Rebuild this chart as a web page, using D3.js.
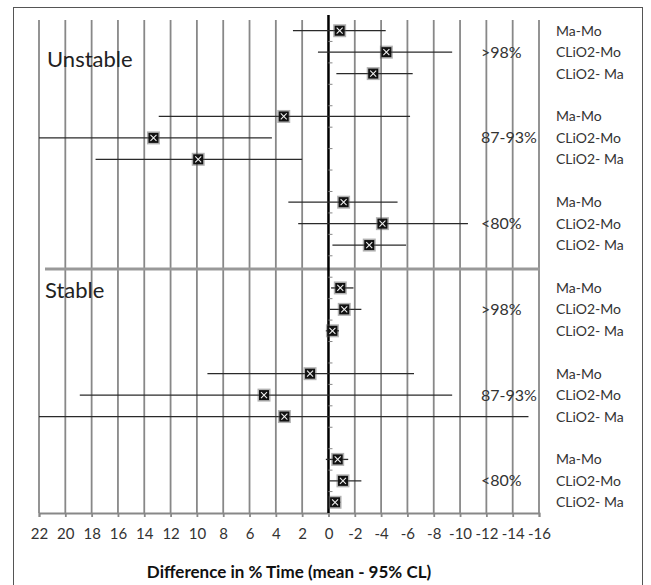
<!DOCTYPE html>
<html><head><meta charset="utf-8">
<script src="https://cdn.jsdelivr.net/npm/d3@7"></script>
<style>body{margin:0;background:#fff}svg{display:block}</style>
</head><body>
<script>
// Data
const panels = ["Unstable","Stable"];
const groups = [">98%","87-93%","<80%"];
const comparisons = ["Ma-Mo","CLiO2-Mo","CLiO2- Ma"];
// per row (Unstable >98%, 87-93%, <80%, then Stable >98%, 87-93%, <80%), 3 comparisons each
const meanVals = [-0.85,-4.4,-3.4, 3.4,13.3,9.9, -1.15,-4.1,-3.1,
                  -0.9,-1.2,-0.3, 1.4,4.9,3.35, -0.7,-1.1,-0.5];
const lowerVals = [2.7,0.8,-0.6, 12.9,22,17.7, 3.05,2.3,-0.3,
                   -0.2,-0.1,0.2, 9.2,18.9,22, 0.2,0,-0.1];
const upperVals = [-4.35,-9.4,-6.4, -6.2,4.3,2.0, -5.25,-10.6,-5.9,
                   -1.9,-2.5,-0.8, -6.5,-9.4,-15.2, -1.5,-2.5,-0.9];
const xTicks = [22,20,18,16,14,12,10,8,6,4,2,0,-2,-4,-6,-8,-10,-12,-14,-16];
const xTitle = "Difference in % Time (mean - 95% CL)";

const W=651,H=585;
const svg=d3.select("body").append("svg").attr("width",W).attr("height",H);
const font="Lato, 'Open Sans', sans-serif";

// border
svg.append("rect").attr("x",13.5).attr("y",7.5).attr("width",629).attr("height",600)
  .attr("fill","none").attr("stroke","#555").attr("stroke-width",1);

const x=d3.scaleLinear().domain([22,-16]).range([39,539]);
const slots=d3.range(23);
const y=d3.scaleBand().domain(slots).range([20,513]).paddingInner(0).paddingOuter(0);
const yc=i=>y(i)+y.bandwidth()/2;

// build rows
const rows=[];
meanVals.forEach((m,k)=>{
  const block=Math.floor(k/3), c=k%3;
  const slot=block*4+c;
  rows.push({slot,mean:m,lo:lowerVals[k],hi:upperVals[k],comp:comparisons[c],group:groups[block%3],panel:panels[Math.floor(block/3)]});
});

// gridlines
svg.append("g").selectAll("line").data(xTicks.filter(t=>t!==0)).join("line")
  .attr("x1",d=>x(d)).attr("x2",d=>x(d)).attr("y1",20).attr("y2",513)
  .attr("stroke","#888").attr("stroke-width",1.8);

// x axis
const ax=svg.append("g").attr("transform","translate(0,513)")
  .call(d3.axisBottom(x).tickValues(xTicks).tickSize(4).tickPadding(11).tickFormat(d=>String(d)));
ax.select(".domain").attr("stroke","#888").attr("stroke-width",1.8);
ax.selectAll(".tick line").attr("stroke","#888").attr("stroke-width",1.8);
ax.selectAll("text").attr("font-family",font).attr("font-size",15).attr("fill","#333");

// separator
svg.append("line").attr("x1",45).attr("x2",540).attr("y1",yc(11)+2.5).attr("y2",yc(11)+2.5)
  .attr("stroke","#999").attr("stroke-width",3);

// zero line
svg.append("line").attr("x1",x(0)).attr("x2",x(0)).attr("y1",15).attr("y2",513)
  .attr("stroke","#000").attr("stroke-width",2.5);
// category ticks on zero line
svg.append("g").selectAll("line").data(d3.range(1,23)).join("line")
  .attr("x1",x(0)).attr("x2",x(0)+4).attr("y1",d=>y(d)).attr("y2",d=>y(d))
  .attr("stroke","#888").attr("stroke-width",1);

// whiskers
svg.append("g").selectAll("line").data(rows).join("line")
  .attr("x1",d=>x(d.lo)).attr("x2",d=>x(d.hi)).attr("y1",d=>yc(d.slot)).attr("y2",d=>yc(d.slot))
  .attr("stroke","#2a2a2a").attr("stroke-width",1.3);

// markers
const mk=svg.append("g").selectAll("g").data(rows).join("g")
  .attr("transform",d=>`translate(${x(d.mean)},${yc(d.slot)})`);
mk.append("rect").attr("x",-6.5).attr("y",-6.5).attr("width",13).attr("height",13).attr("fill","#555").attr("opacity",0.45);
mk.append("rect").attr("x",-5).attr("y",-5).attr("width",10).attr("height",10).attr("fill","#111");
mk.append("path").attr("d","M-3,-3L3,3M3,-3L-3,3").attr("stroke","#eee").attr("stroke-width",1.1);

// right labels
svg.append("g").selectAll("text").data(rows).join("text")
  .attr("x",556).attr("y",d=>yc(d.slot)+5).text(d=>d.comp)
  .attr("font-family",font).attr("font-size",14).attr("fill","#333");
// group labels
const glab=rows.filter((d,i)=>i%3===1);
svg.append("g").selectAll("text").data(glab).join("text")
  .attr("x",481).attr("y",d=>yc(d.slot)+5.5).text(d=>d.group)
  .attr("font-family",font).attr("font-size",16).attr("fill","#333");
// panel labels
svg.append("text").attr("x",47).attr("y",67).text(panels[0])
  .attr("font-family",font).attr("font-size",22).attr("fill","#222");
svg.append("text").attr("x",45).attr("y",298).text(panels[1])
  .attr("font-family",font).attr("font-size",22).attr("fill","#222");
// x title
svg.append("text").attr("x",289).attr("y",578).attr("text-anchor","middle").text(xTitle)
  .attr("font-family",font).attr("font-size",17).attr("font-weight","bold").attr("fill","#111");
</script>
</body></html>
